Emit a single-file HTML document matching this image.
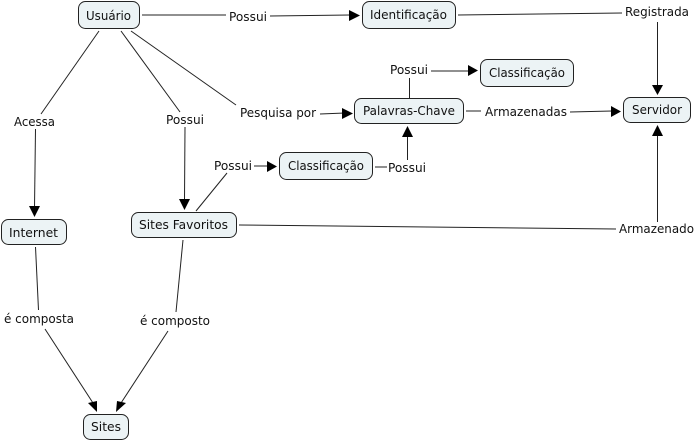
<!DOCTYPE html>
<html><head><meta charset="utf-8"><style>
html,body{margin:0;padding:0;background:#fff}
svg{display:block}
text{font-family:"DejaVu Sans",sans-serif;font-size:12px;fill:#111}
.n{fill:#ecf3f5;stroke:#222;stroke-width:1}
.l{stroke:#222;stroke-width:1;fill:none}
.h{fill:#000}
</style></head><body>
<svg width="697" height="442" viewBox="0 0 697 442" xmlns="http://www.w3.org/2000/svg">
<g class="l">
<path d="M142 15H226M270 16L350 15"/>
<path d="M458 15L622 13"/>
<path d="M657.5 22V86"/>
<path d="M99 31L41 114"/>
<path d="M35.500 129L34.500 208"/>
<path d="M121 31L180 112"/>
<path d="M185 127L184.500 200"/>
<path d="M131 31L236 105"/>
<path d="M320 114L345 113"/>
<path d="M196 211L227 173"/>
<path d="M254 166H268"/>
<path d="M375 167H387"/>
<path d="M407.500 160V135"/>
<path d="M409.500 98V78"/>
<path d="M431 71H470"/>
<path d="M466 111H481M570 112L612 111"/>
<path d="M239 225L616 229"/>
<path d="M657.500 222V136"/>
<path d="M35.500 247L38.500 310"/>
<path d="M183 240L176 312"/>
<path d="M45 329L93 403"/>
<path d="M168 331L121 403"/>
</g>
<g class="h">
<polygon points="349,10 349,21 360,15.500"/>
<polygon points="652,85 663,85 657.500,95"/>
<polygon points="29,206 40,206 34.500,217"/>
<polygon points="179,199 190,199 184.500,210"/>
<polygon points="342,108 342,119 353,113.500"/>
<polygon points="267,161 267,172 277,166.500"/>
<polygon points="402,137 413,137 407.500,126"/>
<polygon points="468,65 468,76 478,70.500"/>
<polygon points="611,106 611,117 621,111.500"/>
<polygon points="652,136 663,136 657.500,125"/>
<polygon points="88,403 97,401 97,412"/>
<polygon points="126,403 117,401 116,412"/>
</g>
<g>
<rect class="n" x="78.500" y="1.500" width="61" height="27" rx="7"/>
<rect class="n" x="362.500" y="1.500" width="93" height="27" rx="7"/>
<rect class="n" x="480.500" y="59.500" width="93" height="27" rx="7"/>
<rect class="n" x="354.500" y="98.500" width="109" height="25" rx="7"/>
<rect class="n" x="623.500" y="97.500" width="67" height="25" rx="7"/>
<rect class="n" x="279.500" y="152.500" width="93" height="27" rx="7"/>
<rect class="n" x="131.500" y="212.500" width="105" height="25" rx="7"/>
<rect class="n" x="1.500" y="219.500" width="65" height="25" rx="7"/>
<rect class="n" x="83.500" y="414.500" width="45" height="25" rx="7"/>
</g>
<g>
<text x="86" y="20" textLength="45" lengthAdjust="spacingAndGlyphs">Usuário</text>
<text x="370" y="19" textLength="77" lengthAdjust="spacingAndGlyphs">Identificação</text>
<text x="489" y="77" textLength="76" lengthAdjust="spacingAndGlyphs">Classificação</text>
<text x="363" y="115" textLength="92" lengthAdjust="spacingAndGlyphs">Palavras-Chave</text>
<text x="632" y="114" textLength="50" lengthAdjust="spacingAndGlyphs">Servidor</text>
<text x="288" y="170" textLength="76" lengthAdjust="spacingAndGlyphs">Classificação</text>
<text x="139" y="229" textLength="89" lengthAdjust="spacingAndGlyphs">Sites Favoritos</text>
<text x="9" y="237" textLength="49" lengthAdjust="spacingAndGlyphs">Internet</text>
<text x="91" y="431" textLength="30" lengthAdjust="spacingAndGlyphs">Sites</text>
<text x="229" y="21" textLength="38" lengthAdjust="spacingAndGlyphs">Possui</text>
<text x="625" y="16" textLength="64" lengthAdjust="spacingAndGlyphs">Registrada</text>
<text x="390" y="74" textLength="38" lengthAdjust="spacingAndGlyphs">Possui</text>
<text x="485" y="116" textLength="82" lengthAdjust="spacingAndGlyphs">Armazenadas</text>
<text x="240" y="117" textLength="76" lengthAdjust="spacingAndGlyphs">Pesquisa por</text>
<text x="14" y="126" textLength="41" lengthAdjust="spacingAndGlyphs">Acessa</text>
<text x="166" y="124" textLength="38" lengthAdjust="spacingAndGlyphs">Possui</text>
<text x="214" y="170" textLength="38" lengthAdjust="spacingAndGlyphs">Possui</text>
<text x="388" y="172" textLength="38" lengthAdjust="spacingAndGlyphs">Possui</text>
<text x="619" y="233" textLength="75" lengthAdjust="spacingAndGlyphs">Armazenado</text>
<text x="4" y="323" textLength="70" lengthAdjust="spacingAndGlyphs">é composta</text>
<text x="140" y="325" textLength="70" lengthAdjust="spacingAndGlyphs">é composto</text>
</g>
</svg>
</body></html>
